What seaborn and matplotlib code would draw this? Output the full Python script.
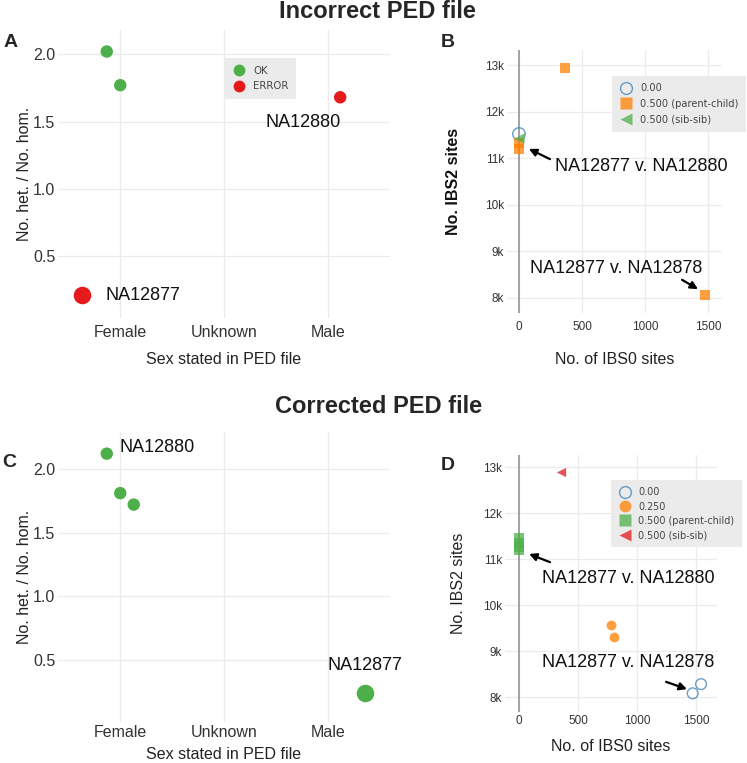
import matplotlib
matplotlib.use("Agg")
import matplotlib.pyplot as plt
from matplotlib.lines import Line2D
import seaborn as sns
import pandas as pd

sns.set_theme(style="white")
plt.rcParams["font.family"] = ["Liberation Sans", "DejaVu Sans"]

# ---------------- data ----------------
sex_levels = ["Female", "Unknown", "Male"]

# Panel A: incorrect PED file
a_sex = ["Female", "Female", "Female", "Male"]
a_jitter = [-0.13, 0.0, -0.37, 0.12]
a_hethom = [2.02, 1.77, 0.21, 1.68]
a_status = ["OK", "OK", "ERROR", "ERROR"]
a_sample = ["", "", "NA12877", "NA12880"]

# Panel C: corrected PED file
c_sex = ["Female", "Female", "Female", "Male"]
c_jitter = [-0.13, 0.0, 0.13, 0.36]
c_hethom = [2.12, 1.81, 1.72, 0.24]
c_status = ["OK", "OK", "OK", "OK"]
c_sample = ["NA12880", "", "", "NA12877"]

# Panel B: incorrect PED relatedness
b_ibs0 = [0, 0, 0, 0, 365, 1476]
b_ibs2 = [11520, 11430, 11320, 11200, 12940, 8060]
b_rel = ["0.00", "0.500 (sib-sib)", "0.500 (parent-child)",
         "0.500 (parent-child)", "0.500 (parent-child)", "0.500 (parent-child)"]

# Panel D: corrected PED relatedness
d_ibs0 = [0, 0, 0, 0, 356, 780, 808, 1472, 1543]
d_ibs2 = [11450, 11350, 11270, 11200, 12890, 9570, 9310, 8080, 8280]
d_rel = ["0.500 (parent-child)"] * 4 + ["0.500 (sib-sib)", "0.250", "0.250",
                                         "0.00", "0.00"]

ibs_ticks = [8000, 9000, 10000, 11000, 12000, 13000]
ibs_ticklabels = ["8k", "9k", "10k", "11k", "12k", "13k"]
ibs0_ticks = [0, 500, 1000, 1500]
ibs0_ticklabels = ["0", "500", "1000", "1500"]
het_ticks = [0.5, 1.0, 1.5, 2.0]
het_ticklabels = ["0.5", "1.0", "1.5", "2.0"]

# ---------------- style ----------------
GREEN = "#4DAF4A"
RED = "#E41A1C"
BLUE = "#377EB8"
ORANGE = "#FF7F00"
GRID = "#EBEBEB"
status_col = {"OK": GREEN, "ERROR": RED}

W, H = 747, 763
fig = plt.figure(figsize=(W / 100, H / 100), dpi=100)


def add_ax(l, t, r, b):
    return fig.add_axes([l / W, 1 - b / H, (r - l) / W, (b - t) / H])


def style_ax(ax, tick_size):
    for s in ax.spines.values():
        s.set_visible(False)
    ax.grid(True, color=GRID, lw=0.9)
    ax.set_axisbelow(True)
    ax.tick_params(axis="both", length=0, labelsize=tick_size, colors="#333333", pad=2)


def sex_panel(ax, sex, jit, vals, status, samples, ylim, xtickpad, xlabelpad):
    df = pd.DataFrame({"sex": sex, "jit": jit, "val": vals, "status": status, "sample": samples})
    df["x"] = [sex_levels.index(s) + 1 + j for s, j in zip(df["sex"], df["jit"])]
    big = df["sample"] == "NA12877"
    sns.scatterplot(data=df[~big], x="x", y="val", hue="status", palette=status_col,
                    s=80, linewidth=0, ax=ax, legend=False)
    sns.scatterplot(data=df[big], x="x", y="val", hue="status", palette=status_col,
                    s=160, linewidth=0, ax=ax, legend=False)
    ax.set_xlim(0.4, 3.6)
    ax.set_ylim(*ylim)
    ax.set_xticks([1, 2, 3])
    ax.set_xticklabels(sex_levels)
    ax.set_yticks(het_ticks)
    ax.set_yticklabels(het_ticklabels)
    style_ax(ax, 11.5)
    ax.tick_params(axis="x", pad=xtickpad)
    ax.set_xlabel("Sex stated in PED file", fontsize=11.5, color="#222222", labelpad=xlabelpad)
    ax.set_ylabel("No. het. / No. hom.", fontsize=11.5, color="#222222", labelpad=1)
    return df


def ibs_panel(ax, ibs0, ibs2, rel, palette, markers, sizes, xlim, ylim, bold_ylabel,
              ylabelpad, xlabelpad, xtickpad):
    df = pd.DataFrame({"ibs0": ibs0, "ibs2": ibs2, "rel": rel})
    ax.axvline(0, color="#8C8C8C", lw=1.1, zorder=1)
    for lvl in palette:
        sub = df[df["rel"] == lvl]
        if lvl == "0.00":
            sns.scatterplot(data=sub, x="ibs0", y="ibs2", color=palette[lvl], marker="o",
                            s=sizes[lvl], facecolor="none", edgecolor=palette[lvl],
                            linewidth=1.0, alpha=0.75, ax=ax, legend=False, zorder=3)
        else:
            sns.scatterplot(data=sub, x="ibs0", y="ibs2", color=palette[lvl],
                            marker=markers[lvl], s=sizes[lvl], linewidth=0, alpha=0.75,
                            ax=ax, legend=False, zorder=3)
    ax.set_xlim(*xlim)
    ax.set_ylim(*ylim)
    ax.set_xticks(ibs0_ticks)
    ax.set_xticklabels(ibs0_ticklabels)
    ax.set_yticks(ibs_ticks)
    ax.set_yticklabels(ibs_ticklabels)
    style_ax(ax, 8.5)
    ax.tick_params(axis="x", pad=xtickpad)
    ax.set_xlabel("No. of IBS0 sites", fontsize=11.5, color="#222222", labelpad=xlabelpad)
    ax.set_ylabel("No. IBS2 sites", fontsize=11.5, color="#111111" if bold_ylabel else "#222222",
                  fontweight="bold" if bold_ylabel else "normal", labelpad=ylabelpad)
    handles = []
    for lvl in palette:
        if lvl == "0.00":
            h = Line2D([], [], ls="", marker="o", ms=8.5, mfc="none", mec=palette[lvl],
                       mew=1.0, alpha=0.75)
        else:
            h = Line2D([], [], ls="", marker=markers[lvl], ms=8.5 if markers[lvl] != "<" else 8,
                       mfc=palette[lvl], mec="none", alpha=0.75)
        handles.append(h)
    return handles


def legend_box(ax, handles, labels, left_px, top_px, spacing, size):
    leg = ax.legend(handles, labels, loc="upper left",
                    bbox_to_anchor=(left_px / W, 1 - top_px / H),
                    bbox_transform=fig.transFigure, frameon=True, fancybox=False,
                    prop={"family": "DejaVu Sans", "size": size},
                    labelcolor="#444444", handletextpad=0.7, borderpad=0.75,
                    labelspacing=spacing, handlelength=1.4, borderaxespad=0)
    fr = leg.get_frame()
    fr.set_facecolor("#EBEBEB")
    fr.set_edgecolor("none")
    fr.set_alpha(1)
    return leg


arrow = dict(arrowstyle="-|>", color="black", lw=1.6, mutation_scale=11, shrinkA=0, shrinkB=0)
ann_kw = dict(fontsize=13, va="center", color="#111111")

# ---------- Panel A ----------
axA = add_ax(58, 30, 390, 318)
dfA = sex_panel(axA, a_sex, a_jitter, a_hethom, a_status, a_sample, (0.04, 2.18), 5, 9)
rowA1 = dfA[dfA["sample"] == "NA12877"].iloc[0]
axA.text(rowA1["x"] + 0.23, rowA1["val"], "NA12877", ha="left", **ann_kw)
rowA2 = dfA[dfA["sample"] == "NA12880"].iloc[0]
axA.text(rowA2["x"] - 0.36, rowA2["val"] - 0.19, "NA12880", ha="center", **ann_kw)
hA = [Line2D([], [], ls="", marker="o", ms=8.5, mfc=GREEN, mec="none"),
      Line2D([], [], ls="", marker="o", ms=8.5, mfc=RED, mec="none")]
legend_box(axA, hA, ["OK", "ERROR"], 224, 58, 0.55, 7.3)

# ---------- Panel B ----------
axB = add_ax(507, 50, 722, 313)
palB = {"0.00": BLUE, "0.500 (parent-child)": ORANGE, "0.500 (sib-sib)": GREEN}
mkB = {"0.00": "o", "0.500 (parent-child)": "s", "0.500 (sib-sib)": "<"}
szB = {"0.00": 80, "0.500 (parent-child)": 60, "0.500 (sib-sib)": 55}
hB = ibs_panel(axB, b_ibs0, b_ibs2, b_rel, palB, mkB, szB, (-95, 1611), (7678, 13322), True,
               17, 14, 5.5)
legend_box(axB, hB, list(palB), 612, 76, 0.55, 7.1)
axB.annotate("", xy=(79, 11200), xytext=(246, 10980), arrowprops=arrow)
axB.text(286, 10830, "NA12877 v. NA12880", ha="left", **ann_kw)
axB.annotate("", xy=(1421, 8190), xytext=(1294, 8390), arrowprops=arrow)
axB.text(770, 8640, "NA12877 v. NA12878", ha="center", **ann_kw)

# ---------- Panel C ----------
axC = add_ax(58, 432, 390, 722)
dfC = sex_panel(axC, c_sex, c_jitter, c_hethom, c_status, c_sample, (0.013, 2.29), 2.5, 5)
rowC1 = dfC[dfC["sample"] == "NA12880"].iloc[0]
axC.text(rowC1["x"] + 0.12, rowC1["val"] + 0.05, "NA12880", ha="left", **ann_kw)
rowC2 = dfC[dfC["sample"] == "NA12877"].iloc[0]
axC.text(rowC2["x"], rowC2["val"] + 0.22, "NA12877", ha="center", **ann_kw)

# ---------- Panel D ----------
axD = add_ax(505, 455, 717, 712)
palD = {"0.00": BLUE, "0.250": ORANGE, "0.500 (parent-child)": GREEN,
        "0.500 (sib-sib)": RED}
mkD = {"0.00": "o", "0.250": "o", "0.500 (parent-child)": "s", "0.500 (sib-sib)": "<"}
szD = {"0.00": 60, "0.250": 50, "0.500 (parent-child)": 45, "0.500 (sib-sib)": 45}
hD = ibs_panel(axD, d_ibs0, d_ibs2, d_rel, palD, mkD, szD, (-119, 1678), (7674, 13261), False,
               12, 9, 2)
legend_box(axD, hD, list(palD), 611, 480, 0.45, 6.9)
axD.annotate("", xy=(85, 11110), xytext=(263, 10930), arrowprops=arrow)
axD.text(195, 10570, "NA12877 v. NA12880", ha="left", **ann_kw)
axD.annotate("", xy=(1424, 8170), xytext=(1246, 8330), arrowprops=arrow)
axD.text(195, 8760, "NA12877 v. NA12878", ha="left", **ann_kw)

# ---------- titles & panel letters ----------
fig.text(377 / W, 1 - 18 / H, "Incorrect PED file", fontsize=17, fontweight="bold",
         ha="center", va="baseline")
fig.text(379 / W, 1 - 413 / H, "Corrected PED file", fontsize=17, fontweight="bold",
         ha="center", va="baseline")
for lab, x, y in [("A", 11, 47), ("B", 448, 47), ("C", 9, 467), ("D", 448, 470)]:
    fig.text(x / W, 1 - y / H, lab, fontsize=14, fontweight="bold", ha="center", va="baseline")

fig.savefig("out.png", dpi=100)
